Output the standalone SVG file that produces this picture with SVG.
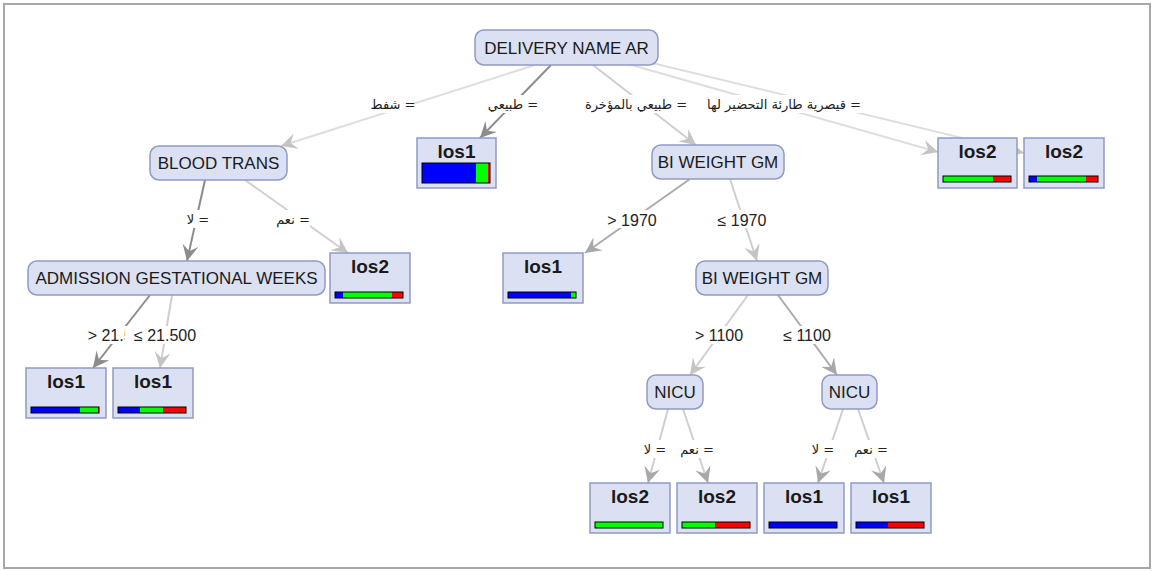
<svg xmlns="http://www.w3.org/2000/svg" width="1154" height="571" viewBox="0 0 1154 571">
<style>
.frame{fill:#fff;stroke:#a8a8a8;stroke-width:2}
.inner{fill:#dbe1f2;stroke:#8f9bc2;stroke-width:1.5}
.leaf{fill:#dbe1f2;stroke:#8f9bc2;stroke-width:1.5}
.nt{font-family:"Liberation Sans",Arial,sans-serif;font-size:17px;fill:#1a1a1a;text-anchor:middle}
.lt{font-family:"Liberation Sans",Arial,sans-serif;font-size:19px;font-weight:bold;fill:#1a1a1a;text-anchor:middle}
.el{font-family:"Liberation Sans","DejaVu Sans",Arial,sans-serif;font-size:16px;fill:#222;text-anchor:middle}
.ar{font-family:"DejaVu Sans","Liberation Sans",sans-serif;font-size:13px;fill:#222;text-anchor:middle;direction:rtl;unicode-bidi:embed}
.lb{fill:#fff}
.bar{stroke:#000;stroke-width:1;fill:none}
.e{fill:none;stroke-width:2}
.dk{stroke:#8c8c8c}
.md{stroke:#ababab}
.lt2{stroke:#cfcfcf}
.vl{stroke:#dedede}
</style>
<defs>
<marker id="aDk" markerUnits="userSpaceOnUse" markerWidth="18" markerHeight="18" refX="16" refY="8" orient="auto" viewBox="0 0 18 16">
<path d="M0,0 L16,8 L0,16 L6,8 Z" fill="#8c8c8c"/>
</marker>
<marker id="aMd" markerUnits="userSpaceOnUse" markerWidth="18" markerHeight="18" refX="16" refY="8" orient="auto" viewBox="0 0 18 16">
<path d="M0,0 L16,8 L0,16 L6,8 Z" fill="#a8a8a8"/>
</marker>
<marker id="aLt" markerUnits="userSpaceOnUse" markerWidth="18" markerHeight="18" refX="16" refY="8" orient="auto" viewBox="0 0 18 16">
<path d="M0,0 L16,8 L0,16 L6,8 Z" fill="#c4c4c4"/>
</marker>
<clipPath id="clipGt"><rect x="80" y="320" width="45" height="30"/></clipPath>
</defs>
<rect class="frame" x="4" y="4" width="1146" height="564"/>

<g id="connectors">
<line class="e vl" x1="535" y1="65" x2="281" y2="146" marker-end="url(#aLt)"/>
<line class="e dk" x1="551" y1="65" x2="480" y2="138" marker-end="url(#aDk)"/>
<line class="e lt2" x1="593" y1="65" x2="696" y2="145" marker-end="url(#aLt)"/>
<line class="e vl" x1="628" y1="64" x2="938" y2="152" marker-end="url(#aLt)"/>
<line class="e vl" x1="648" y1="62" x2="1024" y2="153" marker-end="url(#aLt)"/>
<line class="e dk" x1="205" y1="180" x2="187" y2="261" marker-end="url(#aDk)"/>
<line class="e lt2" x1="245" y1="180" x2="348" y2="253" marker-end="url(#aLt)"/>
<line class="e dk" x1="150" y1="295" x2="93" y2="368" marker-end="url(#aDk)"/>
<line class="e lt2" x1="172" y1="295" x2="160" y2="368" marker-end="url(#aLt)"/>
<line class="e md" x1="690" y1="179" x2="585" y2="253" marker-end="url(#aMd)"/>
<line class="e lt2" x1="730" y1="179" x2="757" y2="261" marker-end="url(#aLt)"/>
<line class="e lt2" x1="748" y1="295" x2="690" y2="375" marker-end="url(#aLt)"/>
<line class="e md" x1="778" y1="295" x2="837" y2="375" marker-end="url(#aMd)"/>
<line class="e lt2" x1="668" y1="409" x2="648" y2="483" marker-end="url(#aMd)"/>
<line class="e lt2" x1="683" y1="409" x2="708" y2="483" marker-end="url(#aMd)"/>
<line class="e lt2" x1="843" y1="409" x2="818" y2="483" marker-end="url(#aMd)"/>
<line class="e lt2" x1="858" y1="409" x2="884" y2="483" marker-end="url(#aMd)"/>

<rect class="lb" x="373" y="95" width="40" height="18"/>
<text class="ar" x="393" y="109">= شفط</text>
<rect class="lb" x="489" y="95" width="48" height="18"/>
<text class="ar" x="513" y="109">= طبيعي</text>
<rect class="lb" x="592" y="95" width="89" height="18"/>
<text class="ar" x="636" y="109">= طبيعي بالمؤخرة</text>
<rect class="lb" x="707" y="95" width="154" height="18"/>
<text class="ar" x="784" y="109">= قيصرية طارئة التحضير لها</text>
<rect class="lb" x="186" y="210" width="24" height="18"/>
<text class="ar" x="198" y="224">= لا</text>
<rect class="lb" x="276" y="210" width="34" height="18"/>
<text class="ar" x="293" y="224">= نعم</text>
<rect class="lb" x="87" y="326" width="41" height="18"/>
<text class="el" x="119" y="341" clip-path="url(#clipGt)">&gt; 21.500</text>
<rect class="lb" x="129" y="326" width="70" height="18"/>
<text class="el" x="165" y="341">≤ 21.500</text>
<rect class="lb" x="605" y="210" width="55" height="18"/>
<text class="el" x="632" y="226">&gt; 1970</text>
<rect class="lb" x="713" y="210" width="58" height="18"/>
<text class="el" x="742" y="226">≤ 1970</text>
<rect class="lb" x="692" y="326" width="55" height="18"/>
<text class="el" x="719" y="341">&gt; 1100</text>
<rect class="lb" x="779" y="326" width="57" height="18"/>
<text class="el" x="807" y="341">≤ 1100</text>
<rect class="lb" x="643" y="440" width="24" height="18"/>
<text class="ar" x="655" y="454">= لا</text>
<rect class="lb" x="680" y="440" width="34" height="18"/>
<text class="ar" x="697" y="454">= نعم</text>
<rect class="lb" x="811" y="440" width="24" height="18"/>
<text class="ar" x="823" y="454">= لا</text>
<rect class="lb" x="854" y="440" width="34" height="18"/>
<text class="ar" x="871" y="454">= نعم</text>
</g>

<g id="n-root">
<rect class="inner" x="475" y="30" width="183" height="35" rx="9"/>
<text class="nt" x="566.5" y="53.5">DELIVERY NAME AR</text>
</g>
<g id="n-blood">
<rect class="inner" x="150" y="146" width="137" height="34" rx="9"/>
<text class="nt" x="218.5" y="169">BLOOD TRANS</text>
</g>
<g id="n-leaf1">
<rect class="leaf" x="417" y="138" width="79" height="50"/>
<text class="lt" x="456.5" y="158">los1</text>
<rect x="422" y="163" width="54" height="20" fill="#0000ff"/>
<rect x="476" y="163" width="12" height="20" fill="#00ff00"/>
<rect x="488" y="163" width="2" height="20" fill="#ff0000"/>
<rect class="bar" x="422" y="163" width="68" height="20"/>
</g>
<g id="n-bw1">
<rect class="inner" x="652" y="145" width="132" height="34" rx="9"/>
<text class="nt" x="718" y="168">BI WEIGHT GM</text>
</g>
<g id="n-leaf2">
<rect class="leaf" x="938" y="138" width="79" height="50"/>
<text class="lt" x="977.5" y="158">los2</text>
<rect x="943" y="176" width="50" height="6" fill="#00ff00"/>
<rect x="993" y="176" width="18" height="6" fill="#ff0000"/>
<rect class="bar" x="943" y="176" width="68" height="6"/>
</g>
<g id="n-leaf3">
<rect class="leaf" x="1024" y="138" width="80" height="50"/>
<text class="lt" x="1064" y="158">los2</text>
<rect x="1029" y="176" width="8" height="6" fill="#0000ff"/>
<rect x="1037" y="176" width="49" height="6" fill="#00ff00"/>
<rect x="1086" y="176" width="12" height="6" fill="#ff0000"/>
<rect class="bar" x="1029" y="176" width="69" height="6"/>
</g>
<g id="n-adm">
<rect class="inner" x="28" y="261" width="297" height="34" rx="9"/>
<text class="nt" x="176.5" y="284">ADMISSION GESTATIONAL WEEKS</text>
</g>
<g id="n-leaf4">
<rect class="leaf" x="330" y="253" width="80" height="50"/>
<text class="lt" x="370" y="273">los2</text>
<rect x="335" y="292" width="8" height="6" fill="#0000ff"/>
<rect x="343" y="292" width="49" height="6" fill="#00ff00"/>
<rect x="392" y="292" width="11" height="6" fill="#ff0000"/>
<rect class="bar" x="335" y="292" width="68" height="6"/>
</g>
<g id="n-leaf5">
<rect class="leaf" x="503" y="253" width="80" height="50"/>
<text class="lt" x="543" y="273">los1</text>
<rect x="508" y="292" width="63" height="6" fill="#0000ff"/>
<rect x="571" y="292" width="5" height="6" fill="#00ff00"/>
<rect class="bar" x="508" y="292" width="68" height="6"/>
</g>
<g id="n-bw2">
<rect class="inner" x="696" y="261" width="132" height="34" rx="9"/>
<text class="nt" x="762" y="284">BI WEIGHT GM</text>
</g>
<g id="n-leaf6">
<rect class="leaf" x="26" y="368" width="80" height="50"/>
<text class="lt" x="66" y="388">los1</text>
<rect x="31" y="407" width="49" height="6" fill="#0000ff"/>
<rect x="80" y="407" width="18" height="6" fill="#00ff00"/>
<rect x="98" y="407" width="1" height="6" fill="#ff0000"/>
<rect class="bar" x="31" y="407" width="68" height="6"/>
</g>
<g id="n-leaf7">
<rect class="leaf" x="113" y="368" width="80" height="50"/>
<text class="lt" x="153" y="388">los1</text>
<rect x="118" y="407" width="22" height="6" fill="#0000ff"/>
<rect x="140" y="407" width="23" height="6" fill="#00ff00"/>
<rect x="163" y="407" width="23" height="6" fill="#ff0000"/>
<rect class="bar" x="118" y="407" width="68" height="6"/>
</g>
<g id="n-nicu1">
<rect class="inner" x="647" y="375" width="56" height="34" rx="9"/>
<text class="nt" x="675" y="398">NICU</text>
</g>
<g id="n-nicu2">
<rect class="inner" x="822" y="375" width="55" height="34" rx="9"/>
<text class="nt" x="849.5" y="398">NICU</text>
</g>
<g id="n-leaf8">
<rect class="leaf" x="590" y="483" width="80" height="50"/>
<text class="lt" x="630" y="503">los2</text>
<rect x="595" y="522" width="68" height="6" fill="#00ff00"/>
<rect class="bar" x="595" y="522" width="68" height="6"/>
</g>
<g id="n-leaf9">
<rect class="leaf" x="677" y="483" width="80" height="50"/>
<text class="lt" x="717" y="503">los2</text>
<rect x="682" y="522" width="33" height="6" fill="#00ff00"/>
<rect x="715" y="522" width="35" height="6" fill="#ff0000"/>
<rect class="bar" x="682" y="522" width="68" height="6"/>
</g>
<g id="n-leaf10">
<rect class="leaf" x="764" y="483" width="80" height="50"/>
<text class="lt" x="804" y="503">los1</text>
<rect x="769" y="522" width="68" height="6" fill="#0000ff"/>
<rect class="bar" x="769" y="522" width="68" height="6"/>
</g>
<g id="n-leaf11">
<rect class="leaf" x="851" y="483" width="80" height="50"/>
<text class="lt" x="891" y="503">los1</text>
<rect x="856" y="522" width="32" height="6" fill="#0000ff"/>
<rect x="888" y="522" width="36" height="6" fill="#ff0000"/>
<rect class="bar" x="856" y="522" width="68" height="6"/>
</g>
</svg>
